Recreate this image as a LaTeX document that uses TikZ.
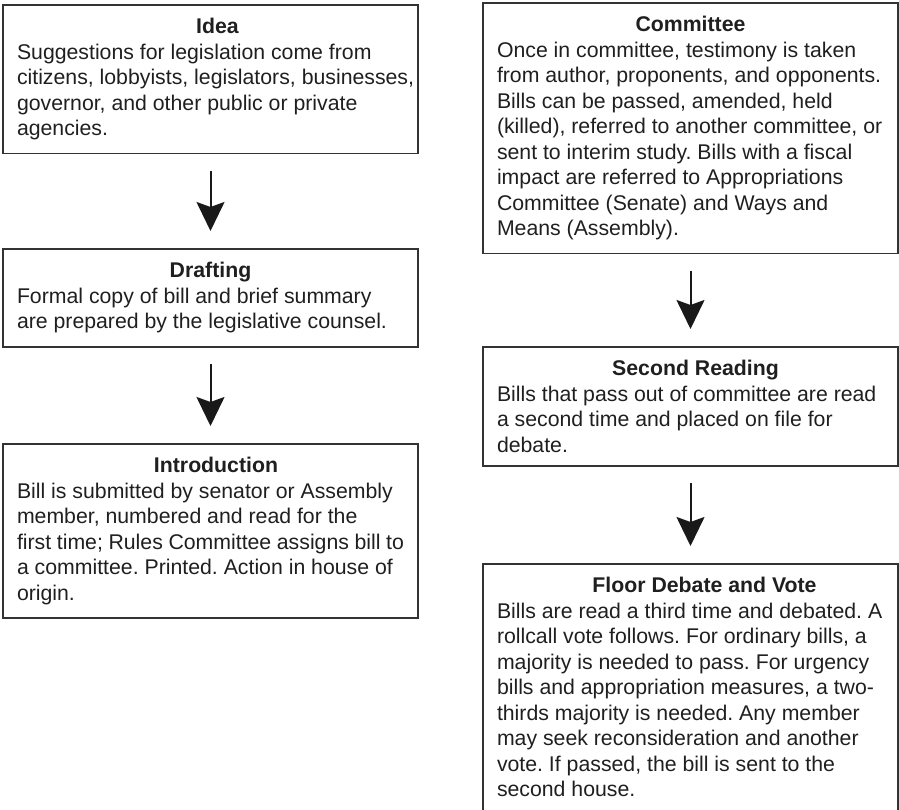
\documentclass[tikz,border=0pt]{standalone}
\usepackage{fontspec}
\setmainfont{Liberation Sans}
\usetikzlibrary{arrows.meta}

\newcommand{\stephead}[2][0cm]{\hfill\hspace*{#1}\textbf{#2}\hfill\null\\}

\begin{document}
\begin{tikzpicture}[
    stepbox/.style={draw=black!80, line width=0.03cm, rectangle, anchor=north west, outer sep=0pt, inner xsep=0.28cm, inner ysep=0.27cm, text width=7.74cm, align=flush left, text=black!88, font=\fontsize{12.1pt}{14.5pt}\selectfont\frenchspacing},
    flow/.style={-{Stealth[length=0.58cm, width=0.56cm, inset=0.1cm]}, line width=0.04cm, draw=black!90, shorten <=0.34cm, shorten >=0.36cm},
]

\useasboundingbox (0,0) rectangle (17.98,16.18);

% Left column
\node[stepbox] (idea) at (0.06,16.08) {\stephead[0.28cm]{Idea}
  Suggestions for legislation come from\\
  \mbox{citizens, lobbyists, legislators, businesses,}\\
  governor, and other public or private\\
  agencies.};
\node[stepbox] (drafting) at (0.06,11.2) {\stephead{Drafting}
  Formal copy of bill and brief summary\\
  are prepared by the legislative counsel.};
\node[stepbox] (intro) at (0.06,7.3) {\stephead[0.22cm]{Introduction}
  Bill is submitted by senator or Assembly\\
  member, numbered and read for the\\
  first time; Rules Committee assigns bill to\\
  a committee. Printed. Action in house of\\
  origin.};

% Right column
\node[stepbox] (committee) at (9.66,16.12) {\stephead{Committee}
  Once in committee, testimony is taken\\
  from author, proponents, and opponents.\\
  Bills can be passed, amended, held\\
  (killed), referred to another committee, or\\
  sent to interim study. Bills with a fiscal\\
  impact are referred to Appropriations\\
  Committee (Senate) and Ways and\\
  Means (Assembly).};
\node[stepbox] (second) at (9.66,9.24) {\stephead[0.2cm]{Second Reading}
  Bills that pass out of committee are read\\
  a second time and placed on file for\\
  debate.};
\node[stepbox] (floor) at (9.66,4.9) {\stephead[0.56cm]{Floor Debate and Vote}
  Bills are read a third time and debated. A\\
  rollcall vote follows. For ordinary bills, a\\
  majority is needed to pass. For urgency\\
  bills and appropriation measures, a two-\\
  thirds majority is needed. Any member\\
  may seek reconsideration and another\\
  vote. If passed, the bill is sent to the\\
  second house.};

% Arrows
\draw[flow] (idea) -- (drafting);
\draw[flow] (drafting) -- (intro);
\draw[flow] (committee) -- (second);
\draw[flow] (second) -- (floor);

\end{tikzpicture}
\end{document}
